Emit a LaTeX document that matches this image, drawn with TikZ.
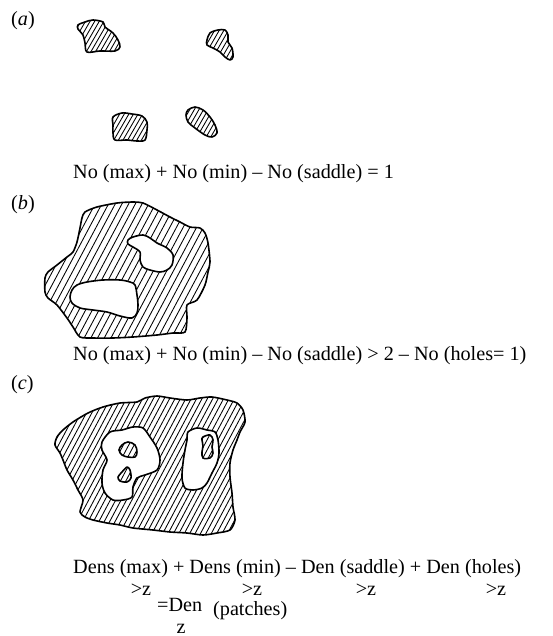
\documentclass[tikz,border=0pt]{standalone}
\usepackage{fontspec}
\setmainfont{Liberation Serif}
\begin{document}
% Hatching: a family of parallel strokes through a square of half-size #3
% centred on (#1,#2); #4 = horizontal spacing, #5 = slope angle.
\newcommand\hatchfill[5]{%
  \foreach \k in {-45,...,45}{%
    \draw[hatchline] ({#1+\k*#4-#3*cos(#5)},{#2+#3*sin(#5)})
      -- ++({2*#3*cos(#5)},{-2*#3*sin(#5)});
  }%
}
% ---- outlines of the patches ----
\def\patchAi{plot[smooth cycle,tension=.55] coordinates {(78,25) (85,22) (93,20) (103,22) (105,27) (113,33) (118,40) (120,47) (115,51) (100,51) (87,52) (85,43) (83,35) (78,29)}}
\def\patchAii{plot[smooth cycle,tension=.55] coordinates {(207,40) (210,33) (218,30) (225,30) (228,35) (228,42) (232,48) (233,57) (230,60) (225,57) (220,52) (213,48) (207,45)}}
\def\patchAiii{plot[smooth cycle,tension=.55] coordinates {(113,117) (122,113) (132,114) (142,116) (147,122) (147,130) (145,140) (137,141) (127,140) (115,140) (113,133) (113,125)}}
\def\patchAiv{plot[smooth cycle,tension=.55] coordinates {(188,110) (195,107) (203,110) (210,117) (215,125) (217,133) (212,137) (205,135) (195,128) (188,122) (186,115)}}
\def\patchB{plot[smooth cycle,tension=.45] coordinates {(85,212) (97,207) (117,203) (133,202) (143,203) (157,210) (170,217) (180,222) (190,227) (200,228) (205,233) (208,243) (210,262) (208,272) (205,285) (197,300) (187,305) (187,318) (185,332) (173,333) (157,335) (133,337) (113,338) (93,338) (80,337) (73,327) (67,318) (57,305) (48,298) (45,292) (45,278) (48,272) (57,265) (67,257) (73,252) (77,242) (80,228) (82,218)}}
\def\holeBi{plot[smooth cycle,tension=.55] coordinates {(128,240) (133,237) (143,235) (150,238) (157,243) (167,248) (173,255) (172,265) (167,270) (160,272) (150,270) (143,267) (140,260) (140,252) (133,247) (128,244)}}
\def\holeBii{plot[smooth cycle,tension=.55] coordinates {(77,285) (87,282) (103,280) (120,280) (130,282) (135,285) (137,295) (138,305) (137,313) (132,318) (120,316) (107,312) (93,310) (80,308) (72,303) (70,297) (72,290)}}
\def\patchC{plot[smooth cycle,tension=.45] coordinates {(63,430) (73,422) (88,413) (103,407) (120,403) (137,402) (145,398) (157,396) (170,398) (187,400) (200,398) (212,397) (227,400) (237,403) (243,410) (245,422) (240,432) (237,440) (233,450) (230,463) (230,477) (232,493) (233,507) (235,520) (230,530) (217,533) (203,535) (187,533) (170,532) (153,530) (133,528) (120,525) (107,523) (93,520) (85,517) (80,512) (83,500) (78,490) (73,480) (67,470) (63,460) (60,453) (55,445) (57,437)}}
\def\holeCi{plot[smooth cycle,tension=.5] coordinates {(102,442) (110,432) (122,430) (133,427) (143,428) (150,437) (157,448) (160,460) (157,470) (145,475) (137,478) (133,487) (132,497) (123,500) (113,500) (105,493) (102,483) (103,470) (107,460) (102,450)}}
\def\isleCi{plot[smooth cycle,tension=.6] coordinates {(122,445) (128,442) (135,445) (137,452) (135,457) (128,457) (122,455) (119,450)}}
\def\isleCii{plot[smooth cycle,tension=.5] coordinates {(127,467) (130,470) (131,478) (127,482) (120,481) (118,477) (122,472)}}
\def\holeCii{plot[smooth cycle,tension=.5] coordinates {(188,432) (197,428) (207,430) (215,432) (218,440) (219,453) (217,463) (212,473) (207,483) (202,488) (193,490) (185,488) (182,478) (183,463) (185,450) (187,440)}}
\def\isleCiii{plot[smooth cycle,tension=.6] coordinates {(203,437) (210,435) (213,440) (212,447) (213,453) (210,458) (203,458) (202,452) (203,446) (202,440)}}

\begin{tikzpicture}[x=1pt,y=-1pt,
  outline/.style={line width=1.6pt,line join=round},
  hatchline/.style={line width=0.85pt},
  txt/.style={font=\fontsize{20.2}{24}\selectfont,inner sep=0pt,anchor=base west},
  sub/.style={font=\fontsize{20.2}{24}\selectfont,inner sep=0pt,anchor=base}]
\useasboundingbox (0,0) rectangle (552,636);

% ---------------- (a) four isolated patches ----------------
\node[txt] (la) at (11,26) {(\textit{a})};
\begin{scope}\clip \patchAi;   \hatchfill{100}{36}{40}{4.6}{60}\end{scope}
\begin{scope}\clip \patchAii;  \hatchfill{220}{45}{40}{4.6}{60}\end{scope}
\begin{scope}\clip \patchAiii; \hatchfill{130}{128}{40}{4.6}{60}\end{scope}
\begin{scope}\clip \patchAiv;  \hatchfill{201}{122}{40}{4.6}{60}\end{scope}
\draw[outline] \patchAi;
\draw[outline] \patchAii;
\draw[outline] \patchAiii;
\draw[outline] \patchAiv;
\node[txt] (ea) at (73,179) {No (max) + No (min) – No (saddle) = 1};

% ---------------- (b) one patch with two holes ----------------
\node[txt] (lb) at (11,210) {(\textit{b})};
\begin{scope}[even odd rule]
  \clip \patchB \holeBi \holeBii;
  \hatchfill{127}{270}{120}{6.7}{62}
\end{scope}
\draw[outline] \patchB;
\draw[outline] \holeBi;
\draw[outline] \holeBii;
\node[txt] (eb) at (73,360) {No (max) + No (min) – No (saddle) > 2 – No (holes= 1)};

% ---------------- (c) patch, holes and islands ----------------
\node[txt] (lc) at (11,389) {(\textit{c})};
\begin{scope}[even odd rule]
  \clip \patchC \holeCi \isleCi \isleCii \holeCii \isleCiii;
  \hatchfill{150}{466}{130}{5.4}{62}
\end{scope}
\draw[outline] \patchC;
\draw[outline] \holeCi;
\draw[outline] \isleCi;
\draw[outline] \isleCii;
\draw[outline] \holeCii;
\draw[outline] \isleCiii;

\node[txt] (ec) at (73,573) {Dens (max) + Dens (min) – Den (saddle) + Den (holes)};
\node[sub] (z1) at (141,595) {>z};
\node[sub] (z2) at (252,595) {>z};
\node[sub] (z3) at (366,595) {>z};
\node[sub] (z4) at (496,595) {>z};
\node[txt] (den) at (157,611) {=Den};
\node[sub] (z5) at (181,633) {z};
\node[txt] (pat) at (213,615) {(patches)};
\end{tikzpicture}
\end{document}
